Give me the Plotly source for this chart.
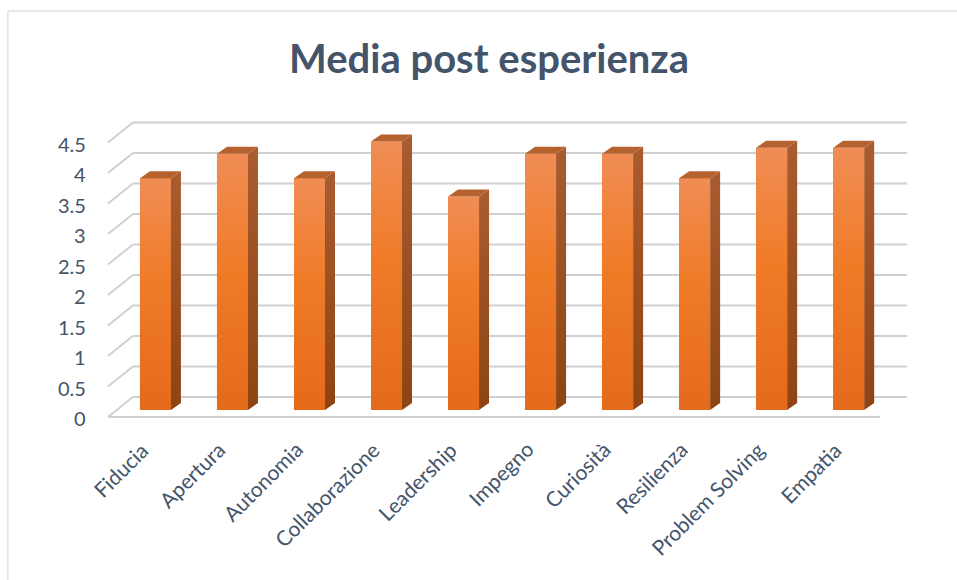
import plotly.graph_objects as go

# --- data -------------------------------------------------------------
categories = ["Fiducia", "Apertura", "Autonomia", "Collaborazione", "Leadership",
              "Impegno", "Curiosità", "Resilienza", "Problem Solving", "Empatia"]
values = [3.8, 4.2, 3.8, 4.4, 3.5, 4.2, 4.2, 3.8, 4.3, 4.3]
y_ticks = [0, 0.5, 1, 1.5, 2, 2.5, 3, 3.5, 4, 4.5]
y_tick_text = ["0", "0.5", "1", "1.5", "2", "2.5", "3", "3.5", "4", "4.5"]
title_text = "Media post esperienza"

# --- geometry of the pseudo-3D box -------------------------------------
W, H = 957, 580
PX_X = 77.0          # pixels per category
PX_Y = 61.0          # pixels per unit of value
X_LO, X_HI = -1.2, 9.9
L_M = 117 + (X_LO + 0.5) * PX_X
R_M = W - (887 + (X_HI - 9.5) * PX_X)
T_M, B_M = 90, 110
plot_w = W - L_M - R_M
plot_h = H - T_M - B_M
zero_px = 410        # y pixel of value 0 in the bar plane
y_lo = -(H - B_M - zero_px) / PX_Y
y_hi = (zero_px - T_M) / PX_Y

def dx(px):
    return px / PX_X

def dy(px):
    return px / PX_Y

BAR_W = dx(31)
DEPTH_X, DEPTH_Y = dx(10), dy(7)              # bar depth
BACK_X, BACK_Y = dx(16), dy(13)               # bar plane -> back wall
FRONT_X, FRONT_Y = dx(-9), dy(-7)             # bar plane -> front edge
RIGHT_BACK = 9.5 + dx(20)
RIGHT_FRONT = 9.5 + dx(-7)

TEXT = "#44546A"
GRID = "#D0D0D0"
FONT = "Lato"

fig = go.Figure()

# gridlines on the back wall and diagonal lines on the left wall
shapes = []
for v in y_ticks:
    shapes.append(dict(type="line", xref="x", yref="y", layer="below",
                       x0=-0.5 + BACK_X, x1=RIGHT_BACK, y0=v + BACK_Y, y1=v + BACK_Y,
                       line=dict(color=GRID, width=2)))
    shapes.append(dict(type="line", xref="x", yref="y", layer="below",
                       x0=-0.5 + FRONT_X, x1=-0.5 + BACK_X,
                       y0=v + FRONT_Y, y1=v + BACK_Y,
                       line=dict(color=GRID, width=2)))
# front edge of the floor
shapes.append(dict(type="line", xref="x", yref="y", layer="below",
                   x0=-0.5 + FRONT_X, x1=RIGHT_FRONT, y0=FRONT_Y, y1=FRONT_Y,
                   line=dict(color=GRID, width=2)))

# chart-area border (left and top)
def px_to_paper_x(px):
    return (px - L_M) / plot_w

def px_to_paper_y(py):
    return (H - B_M - py) / plot_h

shapes.append(dict(type="line", xref="paper", yref="paper",
                   x0=px_to_paper_x(8), x1=px_to_paper_x(957),
                   y0=px_to_paper_y(11), y1=px_to_paper_y(11),
                   line=dict(color="#DDE2EA", width=1.5)))
shapes.append(dict(type="line", xref="paper", yref="paper",
                   x0=px_to_paper_x(8), x1=px_to_paper_x(8),
                   y0=px_to_paper_y(11), y1=px_to_paper_y(580),
                   line=dict(color="#DDE2EA", width=1.5)))

# front faces of the columns
xs = list(range(len(categories)))
fig.add_trace(go.Bar(x=xs, y=values, width=BAR_W, base=0,
                     marker=dict(color="#ED7D31", line=dict(width=0)),
                     hoverinfo="skip", showlegend=False))

for i, v in enumerate(values):
    xl, xr = i - BAR_W / 2, i + BAR_W / 2
    # gradient on the front face
    fig.add_trace(go.Scatter(
        x=[xl, xr, xr, xl, xl], y=[0, 0, v, v, 0],
        mode="lines", line=dict(width=0), fill="toself",
        fillgradient=dict(type="vertical", start=0, stop=v,
                          colorscale=[[0, "#E46A1C"], [0.55, "#F07B27"], [1, "#F08D55"]]),
        hoverinfo="skip", showlegend=False))
    # right side face
    fig.add_trace(go.Scatter(
        x=[xr, xr + DEPTH_X, xr + DEPTH_X, xr, xr],
        y=[0, DEPTH_Y, v + DEPTH_Y, v, 0],
        mode="lines", line=dict(width=0), fill="toself",
        fillgradient=dict(type="vertical", start=0, stop=v + DEPTH_Y,
                          colorscale=[[0, "#8E4412"], [1, "#A95C30"]]),
        hoverinfo="skip", showlegend=False))
    # top face
    fig.add_trace(go.Scatter(
        x=[xl, xl + DEPTH_X, xr + DEPTH_X, xr, xl],
        y=[v, v + DEPTH_Y, v + DEPTH_Y, v, v],
        mode="lines", line=dict(width=0), fill="toself",
        fillcolor="#B5622F",
        hoverinfo="skip", showlegend=False))

annotations = []
# value axis labels, on the front edge
for v, t in zip(y_ticks, y_tick_text):
    annotations.append(dict(x=-0.5 + FRONT_X, y=v + FRONT_Y, xref="x", yref="y",
                            text=t, showarrow=False, xanchor="right", yanchor="middle",
                            xshift=-20, yshift=-1, font=dict(family=FONT, size=20, color=TEXT)))
# category labels, rotated
for i, c in enumerate(categories):
    annotations.append(dict(x=i, y=px_to_paper_y(434), xref="x", yref="paper",
                            text=c, showarrow=False, textangle=-45,
                            xanchor="right", yanchor="top", xshift=0,
                            font=dict(family=FONT, size=21, color=TEXT)))
# title
annotations.append(dict(x=px_to_paper_x(489), y=px_to_paper_y(58), xref="paper", yref="paper",
                        text="<b>" + title_text + "</b>", showarrow=False,
                        xanchor="center", yanchor="middle",
                        font=dict(family=FONT, size=40, color=TEXT)))

fig.update_layout(
    width=W, height=H,
    margin=dict(l=L_M, r=R_M, t=T_M, b=B_M),
    paper_bgcolor="white", plot_bgcolor="white",
    xaxis=dict(range=[X_LO, X_HI], visible=False, fixedrange=True),
    yaxis=dict(range=[y_lo, y_hi], visible=False, fixedrange=True),
    shapes=shapes, annotations=annotations,
    showlegend=False, bargap=0,
)

fig.write_html("out.html")
